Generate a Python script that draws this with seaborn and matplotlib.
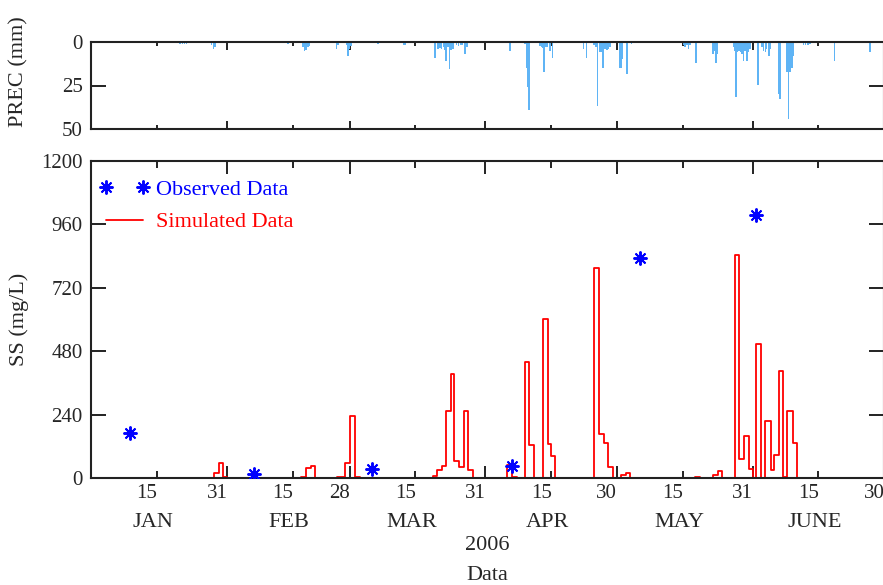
import matplotlib
matplotlib.use("Agg")
import matplotlib.pyplot as plt
from matplotlib.lines import Line2D
from matplotlib.transforms import ScaledTranslation
import seaborn as sns
import numpy as np

# ---------------- data (day of year 2006, Jan 1 = day 1) ----------------
# Observed suspended sediment (mg/L)
obs_day = [8.9, 37.1, 64.2, 96.0, 125.3, 151.8]
obs_ss = [170, 14, 33, 45, 833, 995]

# Simulated SS, step series: value holds from each change point on
sim_day = [0, 28.0, 29.1, 30.0, 31.0, 48.0, 49.1, 50.1, 51.0, 56.2, 58.0, 59.1, 60.2, 61.3,
           78.0, 79.0, 80.1, 81.0, 82.1, 82.9, 84.0, 85.0, 86.0, 87.2,
           95.0, 96.1, 97.1, 99.0, 100.0, 101.1, 103.1, 104.2, 104.9, 106.0,
           114.9, 116.0, 117.1, 118.1, 119.2, 120.9, 122.0, 123.1,
           137.9, 139.0, 141.9, 143.0, 144.1,
           146.9, 148.0, 149.0, 150.1, 151.2, 151.8, 153.0, 153.9, 155.1, 156.0,
           157.1, 158.0, 158.9, 160.2, 161.2, 181.0]
sim_ss = [0, 19, 57, 4, 0, 4, 38, 44, 0, 5, 57, 233, 5, 0,
          6, 31, 44, 253, 394, 64, 42, 253, 31, 0,
          48, 4, 0, 437, 126, 0, 603, 127, 82, 0,
          793, 165, 132, 42, 0, 10, 19, 0,
          3, 0, 10, 25, 0,
          844, 73, 157, 34, 0, 507, 0, 214, 29, 88,
          406, 4, 253, 133, 0, 0]

# Precipitation (mm)
prec_day = [20.3, 20.8, 21.3, 21.8, 27.5, 27.9, 28.3,
            44.9, 48.4, 48.7, 49.1, 49.5, 49.8, 56.0, 56.3, 58.3, 58.6, 59.0, 59.3,
            65.5, 71.4, 71.7, 78.5, 79.2, 79.6, 80.0, 80.4, 80.8, 81.0, 81.4, 81.8, 82.2, 82.6,
            83.4, 83.9, 84.3, 84.7, 85.3, 85.8,
            95.6, 99.0, 99.5, 99.7, 99.96, 102.4, 102.8, 103.1, 103.4, 103.8, 104.2, 104.7, 105.3,
            112.4, 113.1, 114.8, 115.2, 115.6, 116.0, 116.2, 116.6, 116.9, 117.3, 117.7, 118.1, 118.5,
            120.7, 121.0, 121.3, 122.3, 123.4,
            135.2, 135.6, 136.0, 136.4, 136.7, 138.1, 142.0, 142.3, 142.6, 143.0,
            146.6, 146.9, 147.2, 147.5, 147.9, 148.3, 148.6, 148.9, 149.3, 149.7, 150.0, 150.4,
            152.2, 153.1, 153.5, 153.9, 154.2, 154.8, 155.0,
            156.9, 157.3, 158.9, 159.2, 159.5, 159.8, 160.1, 160.3, 162.6, 163.1, 163.6, 164.1,
            169.7, 177.8]
prec_mm = [1.0, 1.2, 1.2, 1.0, 2.0, 4.2, 3.0,
           1.0, 3.0, 5.0, 4.5, 3.0, 2.5, 4.0, 2.0, 2.0, 8.0, 4.0, 2.5,
           1.0, 1.5, 2.0, 9.0, 4.0, 3.5, 4.0, 3.0, 4.5, 11.0, 3.0, 15.7, 4.5, 4.0,
           2.0, 2.3, 2.0, 1.5, 7.0, 3.0,
           5.0, 1.3, 15.0, 26.0, 39.0, 2.5, 3.0, 3.5, 17.0, 3.0, 3.0, 5.0, 9.0,
           4.0, 9.0, 2.0, 3.0, 37.0, 5.0, 6.0, 6.0, 15.0, 4.0, 4.5, 4.0, 3.0,
           15.0, 15.0, 10.0, 18.6, 1.3,
           2.0, 3.0, 2.0, 4.0, 2.0, 12.0, 7.0, 5.0, 12.0, 7.0,
           3.0, 5.0, 31.6, 6.0, 5.0, 6.0, 7.0, 11.0, 5.0, 11.0, 6.0, 4.0,
           24.7, 3.0, 5.0, 6.0, 4.0, 8.0, 4.0,
           30.0, 33.0, 17.0, 44.0, 17.0, 15.0, 15.0, 8.0, 1.5, 1.5, 1.5, 1.0,
           11.0, 6.0]

major_days = [31, 59, 90, 120, 151, 181]
major_labels = ["31", "28", "31", "30", "31", "30"]
minor_days = [15, 46, 74, 105, 135, 166]
minor_labels = ["15", "15", "15", "15", "15", "15"]
month_labels = ["JAN", "FEB", "MAR", "APR", "MAY", "JUNE"]

# ---------------- style ----------------
sns.set_style("ticks")
plt.rcParams["font.family"] = ["Liberation Serif", "DejaVu Serif"]
plt.rcParams["axes.edgecolor"] = "#222222"
plt.rcParams["axes.linewidth"] = 1.5

W, H = 883, 585
fig = plt.figure(figsize=(W / 100, H / 100), dpi=100)
L, R = 91.2, 884.0
ax_top = fig.add_axes([L / W, 1 - 129 / H, (R - L) / W, (129 - 42) / H])
ax_bot = fig.add_axes([L / W, 1 - 478 / H, (R - L) / W, (478 - 160.8) / H])

# ---------------- top panel: precipitation ----------------
ax_top.bar(prec_day, prec_mm, width=0.36, color="#5FB4F5", linewidth=0, align="center")
ax_top.set_xlim(0, 181)
ax_top.set_ylim(50, 0)
ax_top.set_yticks([0, 25, 50])
ax_top.set_yticklabels(["0", "25", "50"], fontsize=15)
ax_top.set_xticks(major_days)
ax_top.set_xticks(minor_days, minor=True)
ax_top.tick_params(axis="x", which="both", labelbottom=False)
ax_top.tick_params(axis="both", which="both", direction="in", top=True, right=True,
                   width=1.4, color="#222222", pad=6)
ax_top.tick_params(axis="x", which="major", length=6)
ax_top.tick_params(axis="x", which="minor", length=3)
ax_top.tick_params(axis="y", length=11)
ax_top.set_ylabel("PREC (mm)", fontsize=16)
ax_top.yaxis.set_label_coords(-0.079, 0.66)

# ---------------- bottom panel: SS ----------------
sns.lineplot(x=sim_day, y=sim_ss, drawstyle="steps-post", estimator=None, sort=False,
             color="#FF0000", linewidth=1.3, ax=ax_bot, zorder=2)
ax_bot.plot(obs_day, obs_ss, linestyle="none", marker=(8, 2, 0), markersize=10,
            markeredgewidth=1.4, color="#0000FF", zorder=5)
ax_bot.set_xlim(0, 181)
ax_bot.set_ylim(0, 1200)
ax_bot.set_yticks([0, 240, 480, 720, 960, 1200])
ax_bot.set_yticklabels(["0", "240", "480", "720", "960", "1200"], fontsize=15)
ax_bot.set_xticks(major_days, major_labels, fontsize=15)
ax_bot.set_xticks(minor_days, minor_labels, minor=True, fontsize=15)
ax_bot.tick_params(axis="both", which="both", direction="in", top=True, right=True,
                   width=1.4, color="#222222")
ax_bot.tick_params(axis="x", which="major", length=9, pad=4)
ax_bot.tick_params(axis="x", which="minor", length=5, pad=4)
ax_bot.tick_params(axis="y", length=11, pad=6)
ax_bot.set_xlabel("")
ax_bot.set_ylabel("SS (mg/L)", fontsize=16)
ax_bot.yaxis.set_label_coords(-0.079, 0.5)

off = ScaledTranslation(-10 / 100, 0, fig.dpi_scale_trans)
for lbl in ax_bot.get_xticklabels(which="both"):
    lbl.set_transform(lbl.get_transform() + off)

for d, m in zip(minor_days, month_labels):
    ax_bot.annotate(m, xy=(d, 0), xycoords=("data", "axes fraction"),
                    xytext=(-2.5, -32), textcoords="offset points",
                    ha="center", va="center", fontsize=16)

fig.text(487 / W, 1 - 546 / H, "2006", ha="center", va="center", fontsize=16)
fig.text(487 / W, 1 - 575 / H, "Data", ha="center", va="center", fontsize=16)

handles = [Line2D([], [], color="#0000FF", marker=(8, 2, 0), markersize=10,
                  markeredgewidth=1.4, linestyle="none"),
           Line2D([], [], color="#FF0000", linewidth=1.3)]
ax_bot.legend(handles, ["Observed Data", "Simulated Data"], numpoints=2,
              frameon=False, loc="upper left",
              bbox_to_anchor=(99 / W, 1 - 179 / H), bbox_transform=fig.transFigure,
              borderpad=0, borderaxespad=0, handlelength=2.3, handletextpad=0.25,
              labelspacing=0.55, fontsize=16, labelcolor=["#0000FF", "#FF0000"])

fig.savefig("out.png", dpi=100)
